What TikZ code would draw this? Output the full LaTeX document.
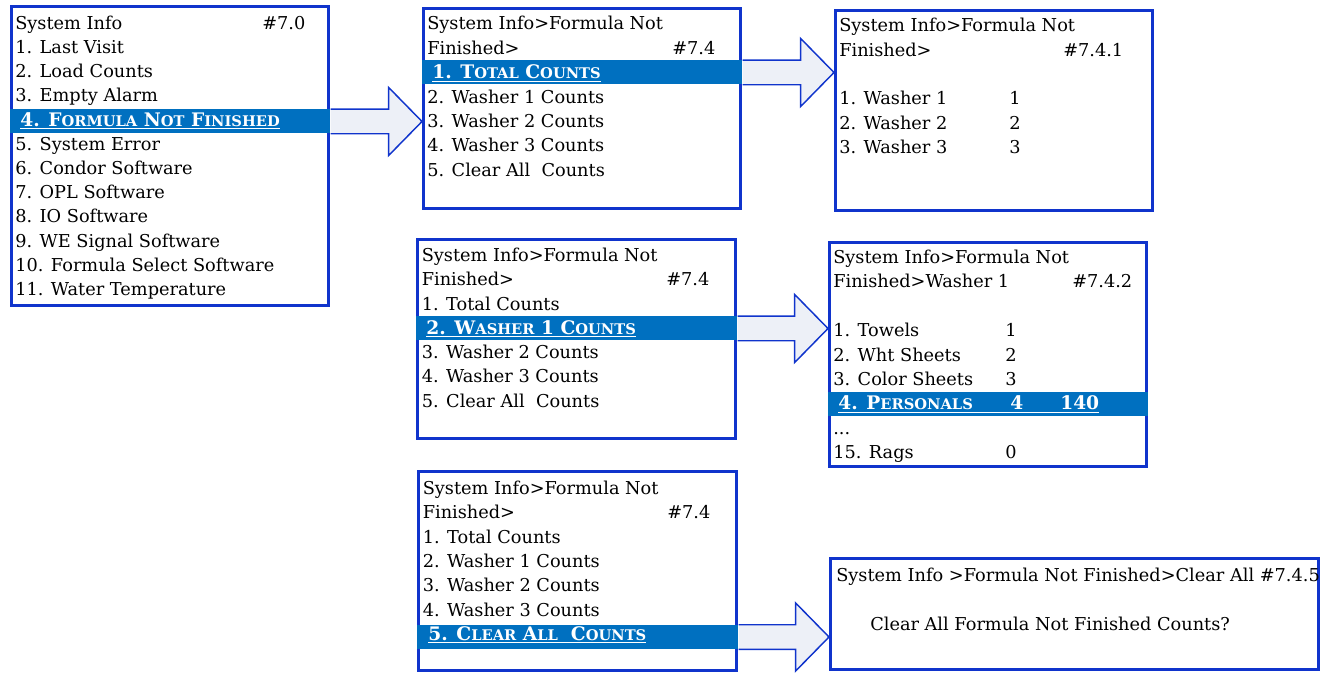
\documentclass[tikz,border=0pt]{standalone}
\usepackage{fontspec}
\setmainfont{DejaVu Serif}
\definecolor{FrameBlue}{RGB}{16, 52, 204}
\definecolor{SelBlue}{RGB}{0, 112, 192}
\definecolor{ArrowFill}{RGB}{237, 240, 247}
\newcommand{\scs}[1]{{\fontsize{11}{12}\selectfont #1}}

\begin{document}
\begin{tikzpicture}[
    x=0.75pt, y=-0.75pt,
    screen/.style={rectangle, draw=FrameBlue, line width=2.2pt, anchor=north west, inner sep=0pt},
    sel/.style={rectangle, fill=SelBlue, anchor=west, inner sep=0pt, minimum height=18pt},
    item/.style={anchor=base west, inner sep=0pt, font=\fontsize{13.3}{16}\selectfont},
    selitem/.style={item, text=white, font=\fontsize{14}{16}\selectfont\bfseries},
    bigarrow/.style={draw=FrameBlue, line width=1.1pt, fill=ArrowFill, line join=miter}
]
\useasboundingbox (0,0) rectangle (1328,673);

% Screen frames
\node[screen, minimum width=237.8pt, minimum height=224.3pt] (m70) at (10,5) {};
\node[screen, minimum width=237.8pt, minimum height=150.05pt] (m74a) at (422,7) {};
\node[screen, minimum width=237.8pt, minimum height=150.05pt] (m741) at (834,9) {};
\node[screen, minimum width=238.55pt, minimum height=149.3pt] (m74b) at (416,238) {};
\node[screen, minimum width=237.8pt, minimum height=168.05pt] (m742) at (828,241) {};
\node[screen, minimum width=238.55pt, minimum height=149.3pt] (m74c) at (417,470) {};
\node[screen, minimum width=366.05pt, minimum height=83.3pt] (m745) at (829,557) {};

% Selection bars
\node[sel, minimum width=240pt] (sel70) at (10,121.5) {};
\node[sel, minimum width=240pt] (sel74a) at (422,72.5) {};
\node[sel, minimum width=240.75pt] (sel74b) at (416,328.5) {};
\node[sel, minimum width=240pt] (sel742) at (828,404) {};
\node[sel, minimum width=240.75pt] (sel74c) at (417,637) {};

% #7.0 System Info
\node[item] (t70-0) at (15,29.3) {System Info};
\node[item] (id70) at (262,29.3) {\#7.0};
\foreach \i/\txt in {1/1. Last Visit, 2/2. Load Counts, 3/3. Empty Alarm, 5/5. System Error,
    6/6. Condor Software, 7/7. OPL Software, 8/8. IO Software, 9/9. WE Signal Software,
    10/10. Formula Select Software, 11/11. Water Temperature}
    \node[item] (t70-\i) at (15, 29.3+24.2*\i) {\txt};
\node[selitem] (t70-4) at (20, 29.3+24.2*4) {\underline{4. F\scs{ORMULA} N\scs{OT} F\scs{INISHED}}};

% #7.4 Total Counts selected
\node[item] (t74a-0) at (427,30) {System Info>Formula Not};
\node[item] (t74a-1) at (427,54.4) {Finished>};
\node[item] (id74a) at (672,54.4) {\#7.4};
\node[selitem] (t74a-2) at (432,78.8) {\underline{1. T\scs{OTAL} C\scs{OUNTS}}};
\foreach \i/\txt in {3/2. Washer 1 Counts, 4/3. Washer 2 Counts, 5/4. Washer 3 Counts, 6/5. Clear All~ Counts}
    \node[item] (t74a-\i) at (427, 30+24.4*\i) {\txt};

% #7.4.1 Total Counts
\node[item] (t741-0) at (839,31.7) {System Info>Formula Not};
\node[item] (t741-1) at (839,56.1) {Finished>};
\node[item] (id741) at (1063,56.1) {\#7.4.1};
\foreach \i/\txt/\v in {3/1. Washer 1/1, 4/2. Washer 2/2, 5/3. Washer 3/3} {
    \node[item] (t741-\i) at (839, 31.7+24.4*\i) {\txt};
    \node[item] (v741-\i) at (1009, 31.7+24.4*\i) {\v};
}

% #7.4 Washer 1 Counts selected
\node[item] (t74b-0) at (421.5,261.5) {System Info>Formula Not};
\node[item] (t74b-1) at (421.5,285.8) {Finished>};
\node[item] (id74b) at (666,285.8) {\#7.4};
\node[item] (t74b-2) at (421.5,310.1) {1. Total Counts};
\node[selitem] (t74b-3) at (426,334.4) {\underline{2. W\scs{ASHER} 1 C\scs{OUNTS}}};
\foreach \i/\txt in {4/3. Washer 2 Counts, 5/4. Washer 3 Counts, 6/5. Clear All~ Counts}
    \node[item] (t74b-\i) at (421.5, 261.5+24.3*\i) {\txt};

% #7.4.2 Washer 1
\node[item] (t742-0) at (833,263.5) {System Info>Formula Not};
\node[item] (t742-1) at (833,287.9) {Finished>Washer 1};
\node[item] (id742) at (1072,287.9) {\#7.4.2};
\foreach \i/\txt/\v in {3/1. Towels/1, 4/2. Wht Sheets/2, 5/3. Color Sheets/3, 8/15. Rags/0} {
    \node[item] (t742-\i) at (833, 263.5+24.4*\i) {\txt};
    \node[item] (v742-\i) at (1005, 263.5+24.4*\i) {\v};
}
\node[item] (t742-7) at (833,434.3) {...};
\node[selitem] (t742-6) at (838,409.9) {\underline{\makebox[129pt][l]{4. P\scs{ERSONALS}}\makebox[37.5pt][l]{4}140}};

% #7.4 Clear All Counts selected
\node[item] (t74c-0) at (422.5,494.5) {System Info>Formula Not};
\node[item] (t74c-1) at (422.5,518.8) {Finished>};
\node[item] (id74c) at (667,518.8) {\#7.4};
\foreach \i/\txt in {2/1. Total Counts, 3/2. Washer 1 Counts, 4/3. Washer 2 Counts, 5/4. Washer 3 Counts}
    \node[item] (t74c-\i) at (422.5, 494.5+24.3*\i) {\txt};
\node[selitem] (t74c-6) at (428,640.3) {\underline{5. C\scs{LEAR} A\scs{LL}~ C\scs{OUNTS}}};

% #7.4.5 Clear All
\node[item] (t745-0) at (836,581.7) {System Info >Formula Not Finished>Clear All \#7.4.5};
\node[item] (t745-1) at (870,630) {Clear All Formula Not Finished Counts?};

% Block arrows
\coordinate (tipA) at (m74a.west |- sel70.east);
\coordinate (baseA) at ([xshift=-25pt]tipA);
\draw[bigarrow] (sel70.north east) -- (baseA |- sel70.north) -- ([yshift=25.5pt]baseA) -- (tipA)
    -- ([yshift=-25.5pt]baseA) -- (baseA |- sel70.south) -- (sel70.south east);

\coordinate (tipB) at (m741.west |- sel74a.east);
\coordinate (baseB) at ([xshift=-25pt]tipB);
\draw[bigarrow] (sel74a.north east) -- (baseB |- sel74a.north) -- ([yshift=25.5pt]baseB) -- (tipB)
    -- ([yshift=-25.5pt]baseB) -- (baseB |- sel74a.south) -- (sel74a.south east);

\coordinate (tipD) at (m742.west |- sel74b.east);
\coordinate (baseD) at ([xshift=-25pt]tipD);
\draw[bigarrow] (sel74b.north east) -- (baseD |- sel74b.north) -- ([yshift=25.5pt]baseD) -- (tipD)
    -- ([yshift=-25.5pt]baseD) -- (baseD |- sel74b.south) -- (sel74b.south east);

\coordinate (tipF) at (m745.west |- sel74c.east);
\coordinate (baseF) at ([xshift=-25pt]tipF);
\draw[bigarrow] (sel74c.north east) -- (baseF |- sel74c.north) -- ([yshift=25.5pt]baseF) -- (tipF)
    -- ([yshift=-25.5pt]baseF) -- (baseF |- sel74c.south) -- (sel74c.south east);

\end{tikzpicture}
\end{document}
